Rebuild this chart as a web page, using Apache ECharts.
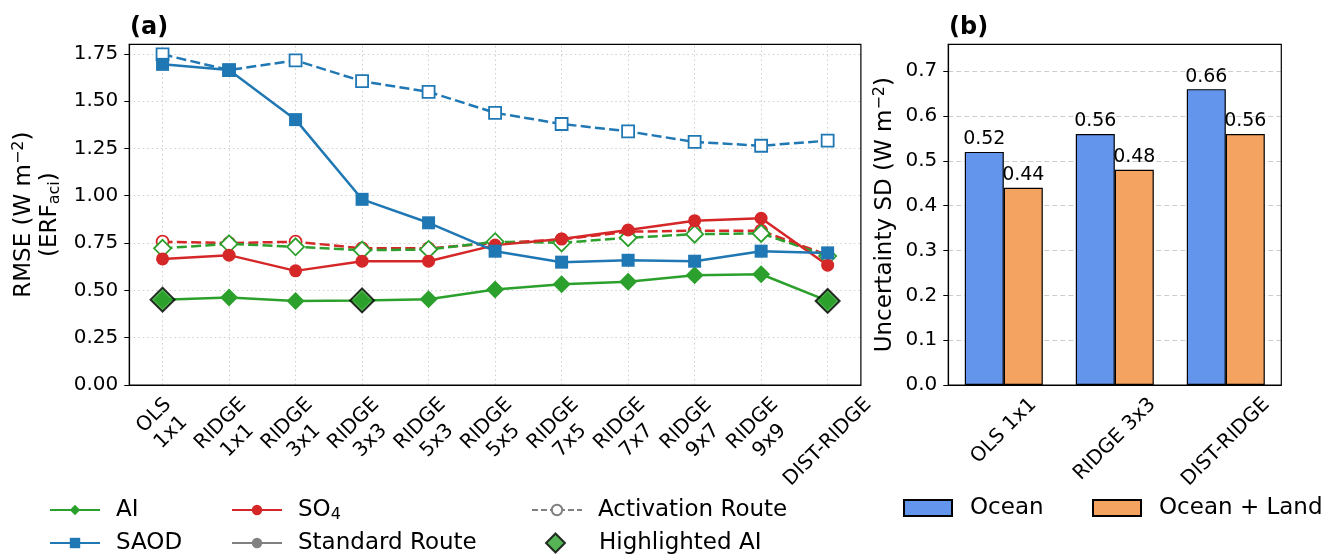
<!DOCTYPE html>
<html>
<head>
<meta charset="utf-8">
<script src="https://cdn.jsdelivr.net/npm/echarts@6/dist/echarts.min.js"></script>
<style>
  html, body { margin: 0; padding: 0; background: #fff; }
  #chart { width: 1328px; height: 555px; }
</style>
</head>
<body>
<div id="chart"></div>
<script>
// ---- data -------------------------------------------------------------
const methods = ['OLS\n1x1', 'RIDGE\n1x1', 'RIDGE\n3x1', 'RIDGE\n3x3', 'RIDGE\n5x3',
                 'RIDGE\n5x5', 'RIDGE\n7x5', 'RIDGE\n7x7', 'RIDGE\n9x7', 'RIDGE\n9x9', 'DIST-RIDGE'];

const aiStandard     = [0.451, 0.462, 0.444, 0.447, 0.453, 0.504, 0.532, 0.546, 0.580, 0.585, 0.444];
const aiActivation   = [0.722, 0.746, 0.730, 0.712, 0.716, 0.757, 0.751, 0.778, 0.797, 0.801, 0.681];
const so4Standard    = [0.666, 0.686, 0.603, 0.654, 0.654, 0.739, 0.771, 0.819, 0.868, 0.881, 0.633];
const so4Activation  = [0.757, 0.750, 0.757, 0.722, 0.722, 0.750, 0.769, 0.810, 0.815, 0.815, 0.686];
const saodStandard   = [1.694, 1.664, 1.402, 0.981, 0.857, 0.707, 0.649, 0.659, 0.654, 0.707, 0.698];
const saodActivation = [1.747, 1.664, 1.715, 1.605, 1.549, 1.438, 1.379, 1.340, 1.284, 1.264, 1.291];
const highlightIndex = [0, 3, 10];

const rmseTicks = [0, 0.25, 0.5, 0.75, 1.0, 1.25, 1.5, 1.75];

const sdMethods    = ['OLS 1x1', 'RIDGE 3x3', 'DIST-RIDGE'];
const sdOcean      = [0.52, 0.56, 0.66];
const sdOceanLand  = [0.44, 0.48, 0.56];
const sdTicks      = [0, 0.1, 0.2, 0.3, 0.4, 0.5, 0.6, 0.7];

// ---- styling ----------------------------------------------------------
const FONT = 'DejaVu Sans';
const TICK_FS = 20;
const TICK_LH = 24;
const LEGEND_FS = 23;
const YLABEL_FS = 23;
const YLABEL_LH = 26;
const GREEN = '#2ca02c', BLUE = '#1f77b4', RED = '#d62728', GRAY = '#808080';
const DASH = [10, 4.3];

const gridA = { left: 129.3, top: 44.3, width: 731.6, height: 340.7 };
const gridB = { left: 948.3, top: 44.3, width: 333, height: 340.7 };

// Rotated category labels are centred under their tick: with a top/centre
// anchored box, top padding moves the text down and right padding moves it
// left along the rotated text axes.
const measureCtx = document.createElement('canvas').getContext('2d');
measureCtx.font = TICK_FS + 'px "' + FONT + '"';
function centredRotatedLabel(text) {
  const lines = text.split('\n');
  const w = Math.max.apply(null, lines.map(l => measureCtx.measureText(l).width));
  const h = lines.length * TICK_LH;
  const drop = 8 + (w + h) * Math.SQRT1_2 / 2;       // screen distance below the axis
  const along = drop * Math.SQRT1_2;                   // same shift in text coordinates
  return {
    value: text,
    textStyle: {
      align: 'center', verticalAlign: 'top',
      padding: [Math.max(0, along - h / 2), 2 * along, 0, 0]
    }
  };
}

function lineSeries(name, values, color, symbol, dashed, open, size) {
  return {
    type: 'line', name: name, xAxisIndex: 0, yAxisIndex: 0, z: 6,
    data: values,
    symbol: symbol, symbolSize: size,
    lineStyle: { color: color, width: 2.5, type: dashed ? DASH : 'solid' },
    itemStyle: open
      ? { color: '#fff', borderColor: color, borderWidth: 1.8 }
      : { color: color, borderWidth: 0 },
    emphasis: { disabled: true },
    silent: true
  };
}

const so4Act = lineSeries('SO4 activation', so4Activation, RED, 'circle', true, true, 12);
so4Act.markLine = {
  silent: true, z: 1, animation: false,
  symbol: ['none', 'none'],
  label: { show: false },
  emphasis: { disabled: true },
  lineStyle: { color: '#cfcfcf', type: [1.5, 3], width: 1 },
  data: methods.map((m, i) => ({ xAxis: i }))
};

const series = [
  so4Act,
  lineSeries('AI activation', aiActivation, GREEN, 'diamond', true, true, 17),
  lineSeries('SAOD activation', saodActivation, BLUE, 'rect', true, true, 12),
  lineSeries('SO4', so4Standard, RED, 'circle', false, false, 13),
  lineSeries('AI', aiStandard, GREEN, 'diamond', false, false, 18),
  lineSeries('SAOD', saodStandard, BLUE, 'rect', false, false, 13),
  {
    type: 'scatter', name: 'Highlighted AI', xAxisIndex: 0, yAxisIndex: 0, z: 7,
    data: highlightIndex.map(i => [i, aiStandard[i]]),
    symbol: 'diamond', symbolSize: 24,
    itemStyle: { color: GREEN, borderColor: '#000', borderWidth: 2 },
    emphasis: { disabled: true }, silent: true
  },
  // legend-only entries for the two routes
  { type: 'line', name: 'Standard Route', xAxisIndex: 0, yAxisIndex: 0, data: [],
    symbol: 'circle', lineStyle: { color: GRAY, width: 2.5 }, itemStyle: { color: GRAY } },
  { type: 'line', name: 'Activation Route', xAxisIndex: 0, yAxisIndex: 0, data: [],
    symbol: 'emptyCircle', lineStyle: { color: GRAY, width: 2.5, type: [6, 3] }, itemStyle: { color: GRAY } },
  // panel (b) bars
  {
    type: 'bar', name: 'Ocean', xAxisIndex: 1, yAxisIndex: 1,
    data: sdOcean, barWidth: 39, barGap: '0%',
    itemStyle: { color: '#6495ED', borderColor: '#000', borderWidth: 1.2 },
    label: { show: true, position: 'top', distance: 3, color: '#000', fontSize: 19,
             fontFamily: FONT, formatter: p => p.value.toFixed(2) },
    emphasis: { disabled: true }, silent: true
  },
  {
    type: 'bar', name: 'Ocean + Land', xAxisIndex: 1, yAxisIndex: 1,
    data: sdOceanLand, barWidth: 39, barGap: '0%',
    itemStyle: { color: '#F4A460', borderColor: '#000', borderWidth: 1.2 },
    label: { show: true, position: 'top', distance: 3, color: '#000', fontSize: 19,
             fontFamily: FONT, formatter: p => p.value.toFixed(2) },
    emphasis: { disabled: true }, silent: true
  }
];

const legendText = {
  fontSize: LEGEND_FS, fontFamily: FONT, color: '#000', lineHeight: 26,
  padding: [0, 0, 0, 11],
  rich: {
    n: { fontSize: LEGEND_FS, fontFamily: FONT, color: '#000', lineHeight: 26 },
    s: { fontSize: 16, fontFamily: FONT, color: '#000', lineHeight: 16, verticalAlign: 'bottom' }
  }
};
function legendAt(name, left, centerY, extra) {
  return Object.assign({
    data: [name], left: left, top: centerY - 13, padding: 0, itemGap: 0,
    selectedMode: false, itemWidth: 50, itemHeight: 13,
    textStyle: legendText,
    formatter: n => n === 'SO4' ? '{n|SO}{s|4}' : n
  }, extra || {});
}

const axisLabelBase = { color: '#000', fontSize: TICK_FS, fontFamily: FONT };
const tickBase = { length: 5, lineStyle: { color: '#000', width: 1 } };
const catLabel = Object.assign({ interval: 0, rotate: 45, align: 'center', verticalAlign: 'top',
  margin: 0, lineHeight: TICK_LH, hideOverlap: false }, axisLabelBase);

function yNameStyle() {
  return {
    color: '#000', fontFamily: FONT, fontSize: YLABEL_FS, lineHeight: YLABEL_LH,
    rich: {
      m:   { fontSize: YLABEL_FS, lineHeight: YLABEL_LH, fontFamily: FONT, color: '#000' },
      sup: { fontSize: 16, lineHeight: 16, fontFamily: FONT, color: '#000', verticalAlign: 'top' },
      sub: { fontSize: 16, lineHeight: 16, fontFamily: FONT, color: '#000', verticalAlign: 'bottom' }
    }
  };
}

const option = {
  animation: false,
  backgroundColor: '#fff',
  textStyle: { fontFamily: FONT },
  title: [
    { text: '(a)', left: 130, top: 16, padding: 0,
      textStyle: { fontSize: 24, fontWeight: 'bold', fontFamily: FONT, color: '#000' } },
    { text: '(b)', left: 949, top: 16, padding: 0,
      textStyle: { fontSize: 24, fontWeight: 'bold', fontFamily: FONT, color: '#000' } }
  ],
  grid: [
    Object.assign({ outerBoundsMode: 'none', containLabel: false }, gridA),
    Object.assign({ outerBoundsMode: 'none', containLabel: false }, gridB)
  ],
  legend: [
    legendAt('AI', 49, 510),
    legendAt('SAOD', 49, 543),
    legendAt('SO4', 231, 510),
    legendAt('Standard Route', 231, 543),
    legendAt('Activation Route', 531, 510),
    legendAt('Highlighted AI', 545, 543, { itemWidth: 19, itemHeight: 19,
      textStyle: Object.assign({}, legendText, { padding: [0, 0, 0, 29] }) }),
    legendAt('Ocean', 903, 508, { icon: 'rect', itemWidth: 48, itemHeight: 16,
      textStyle: Object.assign({}, legendText, { padding: [0, 0, 0, 13] }) }),
    legendAt('Ocean + Land', 1092, 508, { icon: 'rect', itemWidth: 48, itemHeight: 16,
      textStyle: Object.assign({}, legendText, { padding: [0, 0, 0, 13] }) })
  ],
  xAxis: [
    {
      type: 'category', gridIndex: 0, data: methods.map(centredRotatedLabel), boundaryGap: true,
      axisLine: { lineStyle: { color: '#000', width: 1.2 } },
      axisTick: Object.assign({ alignWithLabel: true }, tickBase),
      axisLabel: catLabel,
      splitLine: { show: false }
    },
    {
      type: 'category', gridIndex: 1, data: sdMethods.map(centredRotatedLabel), boundaryGap: true,
      axisLine: { lineStyle: { color: '#000', width: 1.2 } },
      axisTick: Object.assign({ alignWithLabel: true }, tickBase),
      axisLabel: catLabel,
      splitLine: { show: false }
    }
  ],
  yAxis: [
    {
      type: 'value', gridIndex: 0, min: 0, max: 1.8, interval: 0.25,
      axisLine: { show: true, lineStyle: { color: '#000', width: 1.2 } },
      axisTick: Object.assign({ show: true, customValues: rmseTicks }, tickBase),
      axisLabel: Object.assign({ customValues: rmseTicks, margin: 11,
        formatter: v => v.toFixed(2) }, axisLabelBase),
      splitLine: { show: true, lineStyle: { color: '#cfcfcf', type: [1.5, 3], width: 1 } },
      name: '{m|RMSE (W m}{sup|−2}{m|)}\n{m|(ERF}{sub|aci}{m|)}',
      nameLocation: 'middle', nameRotate: 90, nameGap: 65,
      nameTextStyle: yNameStyle()
    },
    {
      type: 'value', gridIndex: 1, min: 0, max: 0.76, interval: 0.1,
      axisLine: { show: true, lineStyle: { color: '#000', width: 1.2 } },
      axisTick: Object.assign({ show: true, customValues: sdTicks }, tickBase),
      axisLabel: Object.assign({ customValues: sdTicks, margin: 11,
        formatter: v => v.toFixed(1) }, axisLabelBase),
      splitLine: { show: true, lineStyle: { color: '#cccccc', type: [5, 3], width: 1 } },
      name: '{m|Uncertainty SD (W m}{sup|−2}{m|)}',
      nameLocation: 'middle', nameRotate: 90, nameGap: 50,
      nameTextStyle: yNameStyle()
    }
  ],
  graphic: [gridA, gridB].map(g => ({
    type: 'rect', z: 100, silent: true,
    shape: { x: g.left, y: g.top, width: g.width, height: g.height },
    style: { fill: null, stroke: '#000', lineWidth: 1.2 }
  })),
  series: series
};

const chart = echarts.init(document.getElementById('chart'), null, { renderer: 'canvas' });
chart.setOption(option);
</script>
</body>
</html>
